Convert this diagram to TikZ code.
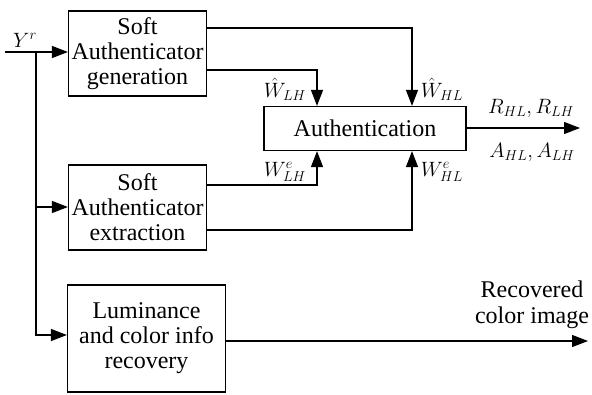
\documentclass[tikz,border=0pt]{standalone}
\usepackage{fontspec}
\setmainfont{Liberation Serif}
\usetikzlibrary{arrows.meta}
\begin{document}
\begin{tikzpicture}[x=1pt,y=-1pt,
  every node/.style={font=\fontsize{24}{25}\selectfont},
  blk/.style={draw,line width=1.2pt,align=center,inner sep=0pt},
  conn/.style={line width=1.2pt},
  arr/.style={conn,-{Triangle[length=16pt,width=12pt]}},
  lbl/.style={inner sep=0pt,font=\fontsize{21.5}{25}\selectfont}]
\useasboundingbox (0,0) rectangle (592,394);
\node[blk,minimum width=138,minimum height=85] (gen) at (137.5,53.5) {Soft\\Authenticator\\generation};
\node[blk,minimum width=138,minimum height=85] (ext) at (137.5,207.5) {Soft\\Authenticator\\extraction};
\node[blk,minimum width=158,minimum height=107] (lum) at (146.5,338.5) {Luminance\\and color info\\recovery};
\node[blk,minimum width=202,minimum height=44] (auth) at (365,128.5) {Authentication};
\coordinate (in) at (5,52);
\coordinate (br) at (36,52);
\coordinate (out1) at (580,128);
\coordinate (out2) at (588,341);
% input
\draw[arr] (in) -- (gen.west |- in);
\draw[arr] (br) |- (ext.west |- 0,207);
\draw[arr] (br) |- (lum.west |- 0,335);
% generation outputs
\draw[arr] (gen.east |- 0,28) -| (auth.north -| 412,0);
\draw[arr] (gen.east |- 0,70) -| (auth.north -| 317,0);
% extraction outputs
\draw[arr] (ext.east |- 0,185) -| (auth.south -| 317,0);
\draw[arr] (ext.east |- 0,230) -| (auth.south -| 412,0);
% outputs
\draw[arr] (auth.east |- out1) -- (out1);
\draw[arr] (lum.east |- out2) -- (out2);
% labels
\node[lbl] (ylab) at (25,40) {$Y^r$};
\node[lbl] (l1) at (285,89) {$\hat W_{LH}$};
\node[lbl] (l2) at (442,89) {$\hat W_{HL}$};
\node[lbl] (l3) at (285,172) {$W^e_{LH}$};
\node[lbl] (l4) at (442,172) {$W^e_{HL}$};
\node[lbl] (l5) at (531,108) {$R_{HL},R_{LH}$};
\node[lbl] (l6) at (532,152) {$A_{HL},A_{LH}$};
\node[lbl,align=center,font=\fontsize{24}{26}\selectfont] (l7) at (532,305) {Recovered\\color image};
\end{tikzpicture}
\end{document}
